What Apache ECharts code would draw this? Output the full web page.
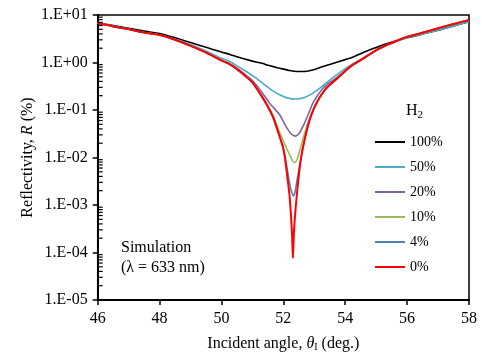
<!DOCTYPE html>
<html><head><meta charset="utf-8">
<script src="https://cdn.jsdelivr.net/npm/echarts@6/dist/echarts.min.js"></script>
<style>html,body{margin:0;padding:0;background:#fff}#c{width:482px;height:352px}</style>
</head><body><div id="c"></div>
<script>
// ---- data (angle in degrees, reflectivity in %) ----
const seriesNames = ['100%', '50%', '20%', '10%', '4%', '0%'];
const seriesColors = ['#000000', '#4BACC6', '#8064A2', '#9BBB59', '#4F81BD', '#FF0000'];
const xTicks = [46, 48, 50, 52, 54, 56, 58];

const xBlack = [46,46.5,47,47.5,48,48.5,49,49.5,50,50.27,50.5,51,51.34,51.5,51.88,52.2,52.46,52.7,52.95,53.2,53.5,54,54.24,54.7,55.31,56,56.5,57,57.5,58];
const yBlack = [6.76,6.03,5.25,4.57,4.07,3.31,2.63,2.09,1.66,1.48,1.32,1.07,0.955,0.871,0.759,0.676,0.646,0.646,0.692,0.794,0.912,1.15,1.29,1.74,2.45,3.31,3.98,4.79,5.89,7.24];

const xCyan = [46,46.5,47,47.5,48,48.5,49,49.5,50,50.27,50.5,50.8,51.1,51.34,51.6,51.88,52.15,52.42,52.7,52.95,53.2,53.5,53.7,54,54.24,54.7,55.31,56,56.5,57,57.5,58];
const yCyan = [6.76,5.89,5.01,4.27,3.80,3.09,2.40,1.74,1.23,1.05,0.851,0.646,0.479,0.363,0.269,0.209,0.178,0.170,0.186,0.224,0.295,0.427,0.537,0.741,0.933,1.38,2.24,3.31,3.98,4.79,5.89,7.24];

const xPurple = [46,46.5,47,47.5,48,48.5,49,49.5,50,50.25,50.5,50.8,51,51.3,51.55,51.88,52.09,52.25,52.39,52.5,52.63,52.8,52.95,53.1,53.28,53.5,53.7,54,54.24,54.5,55,55.31,55.75,56,56.4,57,57.5,58];
const yPurple = [6.76,5.75,5.01,4.27,3.80,3.02,2.29,1.66,1.12,0.955,0.759,0.537,0.417,0.240,0.141,0.0794,0.0447,0.0316,0.0282,0.0316,0.0447,0.0794,0.138,0.20,0.288,0.380,0.468,0.676,0.891,1.12,1.82,2.29,3.02,3.47,4.07,5.25,6.46,7.76];

const xGreen = [46,46.5,47,47.5,48,48.5,49,49.5,50,50.25,50.5,50.8,51,51.34,51.5,51.66,51.85,51.98,52.1,52.2,52.3,52.37,52.45,52.52,52.63,52.74,52.85,53,53.17,53.35,53.5,53.7,54,54.24,54.5,55,55.31,55.75,56,56.4,57,57.5,58];
const yGreen = [6.76,5.75,5.01,4.27,3.80,3.02,2.24,1.62,1.10,0.933,0.724,0.501,0.380,0.182,0.123,0.0794,0.038,0.024,0.0158,0.0115,0.0085,0.0078,0.0093,0.0132,0.024,0.0417,0.0676,0.115,0.182,0.269,0.339,0.437,0.661,0.891,1.12,1.82,2.29,3.02,3.47,4.07,5.25,6.46,7.85];

const xBlue = [46,46.5,47,47.5,48,48.5,49,49.5,50,50.25,50.5,50.8,51,51.34,51.5,51.66,51.8,51.98,52.05,52.14,52.22,52.28,52.33,52.38,52.45,52.55,52.63,52.75,52.85,53,53.17,53.35,53.5,53.7,54,54.24,54.5,55,55.31,55.75,56,56.4,57,57.5,58];
const yBlue = [6.76,5.75,5.01,4.27,3.80,3.02,2.24,1.62,1.10,0.933,0.724,0.501,0.380,0.178,0.117,0.0724,0.0398,0.0178,0.0107,0.005,0.0025,0.00178,0.00155,0.0019,0.00355,0.0083,0.0158,0.0355,0.0617,0.112,0.182,0.269,0.339,0.437,0.661,0.891,1.12,1.82,2.29,3.02,3.47,4.07,5.25,6.46,7.85];

const xRed = [46,46.5,47,47.5,48,48.5,49,49.5,50,50.25,50.5,50.8,51,51.34,51.5,51.66,51.8,51.98,52.05,52.14,52.2,52.25,52.28,52.31,52.34,52.38,52.42,52.48,52.55,52.63,52.75,52.85,53,53.17,53.35,53.5,53.7,54,54.24,54.5,55,55.31,55.75,56,56.4,57,57.5,58];
const yRed = [6.76,5.75,5.01,4.27,3.80,3.02,2.24,1.62,1.10,0.933,0.724,0.501,0.380,0.178,0.117,0.0724,0.0398,0.017,0.01,0.0034,0.00158,0.00056,0.00025,0.000076,0.00025,0.00063,0.00126,0.00316,0.0079,0.0158,0.0355,0.0617,0.112,0.182,0.269,0.339,0.437,0.661,0.891,1.12,1.82,2.29,3.02,3.47,4.07,5.25,6.46,7.85];

const xs = [xBlack, xCyan, xPurple, xGreen, xBlue, xRed];
const ys = [yBlack, yCyan, yPurple, yGreen, yBlue, yRed];

// minor ticks on the log axis: 2..9 x each decade
const minorMant = [2,3,4,5,6,7,8,9];
const decades = [1e-5,1e-4,1e-3,1e-2,1e-1,1];

const FONT = '"Liberation Serif", "Times New Roman", serif';
const chart = echarts.init(document.getElementById('c'), null, {renderer: 'canvas'});

function fmtExp(v) {
  const e = Math.round(Math.log10(v));
  return '1.E' + (e < 0 ? '-' : '+') + String(Math.abs(e)).padStart(2, '0');
}

const minorData = [];
decades.forEach(d => minorMant.forEach(m => minorData.push([46, m * d])));

const series = seriesNames.map((n, i) => ({
  name: n,
  type: 'line',
  data: xs[i].map((x, j) => [x, ys[i][j]]),
  showSymbol: false,
  symbol: 'none',
  smooth: 0.25,
  color: seriesColors[i],
  lineStyle: {width: i === 5 ? 2 : 1.6, color: seriesColors[i]},
  z: 2 + i,
  animation: false
}));
series.push({
  type: 'custom',
  silent: true,
  animation: false,
  data: minorData,
  clip: false,
  z: 10,
  renderItem: function (params, api) {
    const p = api.coord([api.value(0), api.value(1)]);
    return {type: 'line', shape: {x1: p[0], y1: p[1], x2: p[0] + 5, y2: p[1]},
      style: {stroke: '#000', lineWidth: 1.2}};
  }
});

chart.setOption({
  animation: false,
  backgroundColor: '#fff',
  grid: {left: 97.7, right: 13, top: 15, bottom: 52, show: true, borderColor: '#000', borderWidth: 1.5,
    backgroundColor: 'transparent', containLabel: false, outerBoundsMode: 'none'},
  legend: {
    data: seriesNames,
    orient: 'vertical',
    left: 370, top: 130, padding: 5,
    icon: 'rect', itemWidth: 30, itemHeight: 2, itemGap: 11,
    textStyle: {fontFamily: FONT, fontSize: 14, color: '#000'}
  },
  xAxis: {
    type: 'value', min: 46, max: 58, interval: 2,
    axisLine: {lineStyle: {color: '#000', width: 2}},
    axisTick: {show: true, inside: false, length: 5, lineStyle: {color: '#000', width: 1.5}},
    axisLabel: {fontFamily: FONT, fontSize: 16, color: '#000', margin: 11,
      formatter: v => xTicks.indexOf(v) >= 0 ? String(v) : ''},
    splitLine: {show: false},
    name: '{n|Incident angle, }{it|θ}{sub|I}{n| (deg.)}',
    nameLocation: 'middle', nameGap: 35, nameMoveOverlap: false,
    nameTextStyle: {rich: {
      n: {fontFamily: FONT, fontSize: 16, color: '#000'},
      it: {fontFamily: FONT, fontSize: 16, fontStyle: 'italic', color: '#000'},
      sub: {fontFamily: FONT, fontSize: 10, color: '#000', padding: [7, 0, 0, 0]}
    }}
  },
  yAxis: {
    type: 'log', logBase: 10, min: 1e-5, max: 10, interval: 1,
    axisLine: {lineStyle: {color: '#000', width: 2}},
    axisTick: {show: true, inside: false, length: 5, lineStyle: {color: '#000', width: 1.5}},
    axisLabel: {fontFamily: FONT, fontSize: 16, color: '#000', margin: 10, formatter: fmtExp},
    splitLine: {show: false},
    minorTick: {show: false},
    name: '{n|Reflectivity, }{it|R}{n| (%)}',
    nameLocation: 'middle', nameGap: 62, nameRotate: 90, nameMoveOverlap: false,
    nameTextStyle: {rich: {
      n: {fontFamily: FONT, fontSize: 16, color: '#000'},
      it: {fontFamily: FONT, fontSize: 16, fontStyle: 'italic', color: '#000'}
    }}
  },
  graphic: [
    {type: 'text', left: 406, top: 103, style: {
      text: '{h|H}{s|2}', rich: {
        h: {fontFamily: FONT, fontSize: 16, fill: '#000'},
        s: {fontFamily: FONT, fontSize: 11, fill: '#000', padding: [8, 0, 0, 0]}
      }}},
    {type: 'text', left: 121, top: 238, style: {
      text: 'Simulation\n(λ = 633 nm)', fontFamily: FONT, fontSize: 16, lineHeight: 20, fill: '#000'}}
  ],
  series: series
});
</script></body></html>
